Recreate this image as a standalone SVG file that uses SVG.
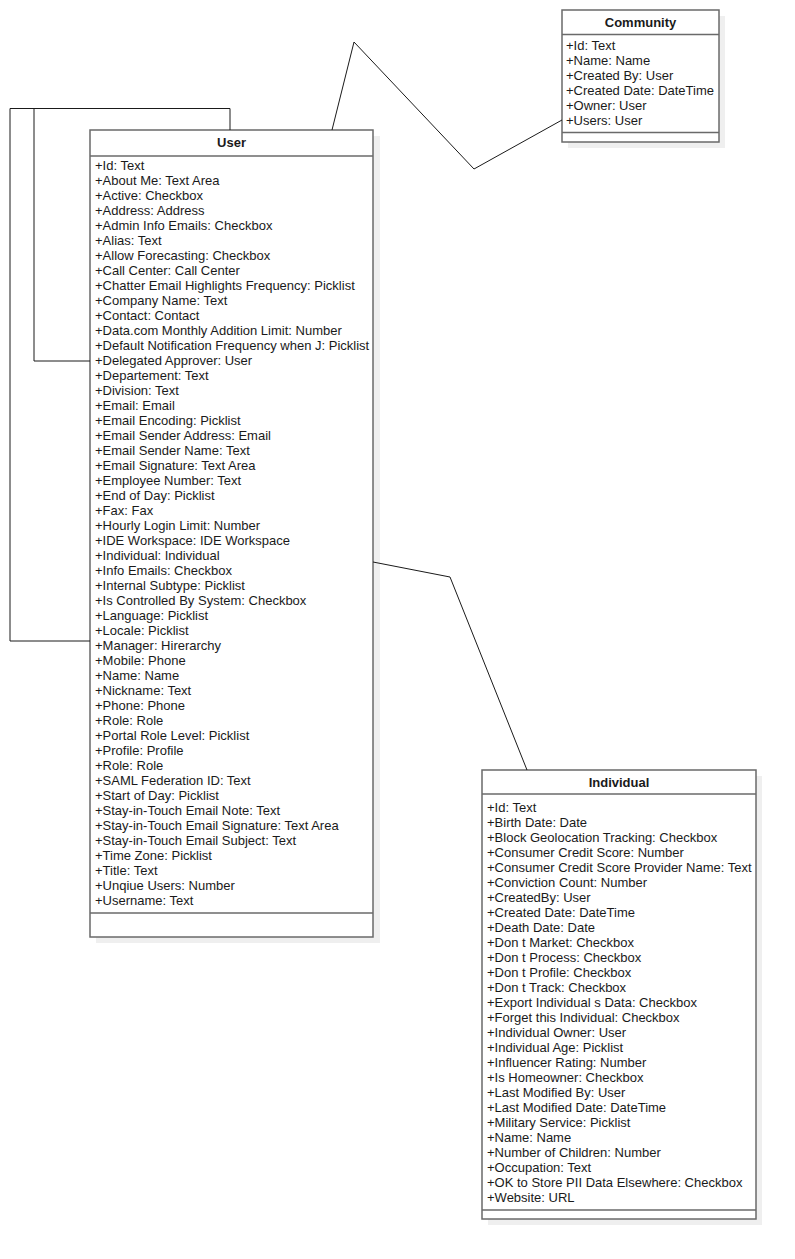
<svg xmlns="http://www.w3.org/2000/svg" width="795" height="1259" viewBox="0 0 795 1259">
<style>
.shadow{fill:#efefef;stroke:none}
.box{fill:#ffffff;stroke:#6a6a6a;stroke-width:1.5}
.div{stroke:#6a6a6a;stroke-width:1.5}
.conn{fill:none;stroke:#1a1a1a;stroke-width:1}
text{font-family:"Liberation Sans",Arial,sans-serif;font-size:13px;fill:#1a1a1a}
.title{font-weight:bold;text-anchor:middle}
</style>
<rect width="795" height="1259" fill="#ffffff"/>
<g id="user">
<rect class="shadow" x="96" y="136" width="284" height="807"/>
<rect class="box" x="90" y="130" width="283" height="807"/>
<line class="div" x1="90" y1="156" x2="373" y2="156"/>
<line class="div" x1="90" y1="913" x2="373" y2="913"/>
<text class="title" x="231.5" y="147">User</text>
<text x="95" y="170">+Id: Text</text>
<text x="95" y="185">+About Me: Text Area</text>
<text x="95" y="200">+Active: Checkbox</text>
<text x="95" y="215">+Address: Address</text>
<text x="95" y="230">+Admin Info Emails: Checkbox</text>
<text x="95" y="245">+Alias: Text</text>
<text x="95" y="260">+Allow Forecasting: Checkbox</text>
<text x="95" y="275">+Call Center: Call Center</text>
<text x="95" y="290">+Chatter Email Highlights Frequency: Picklist</text>
<text x="95" y="305">+Company Name: Text</text>
<text x="95" y="320">+Contact: Contact</text>
<text x="95" y="335">+Data.com Monthly Addition Limit: Number</text>
<text x="95" y="350">+Default Notification Frequency when J: Picklist</text>
<text x="95" y="365">+Delegated Approver: User</text>
<text x="95" y="380">+Departement: Text</text>
<text x="95" y="395">+Division: Text</text>
<text x="95" y="410">+Email: Email</text>
<text x="95" y="425">+Email Encoding: Picklist</text>
<text x="95" y="440">+Email Sender Address: Email</text>
<text x="95" y="455">+Email Sender Name: Text</text>
<text x="95" y="470">+Email Signature: Text Area</text>
<text x="95" y="485">+Employee Number: Text</text>
<text x="95" y="500">+End of Day: Picklist</text>
<text x="95" y="515">+Fax: Fax</text>
<text x="95" y="530">+Hourly Login Limit: Number</text>
<text x="95" y="545">+IDE Workspace: IDE Workspace</text>
<text x="95" y="560">+Individual: Individual</text>
<text x="95" y="575">+Info Emails: Checkbox</text>
<text x="95" y="590">+Internal Subtype: Picklist</text>
<text x="95" y="605">+Is Controlled By System: Checkbox</text>
<text x="95" y="620">+Language: Picklist</text>
<text x="95" y="635">+Locale: Picklist</text>
<text x="95" y="650">+Manager: Hirerarchy</text>
<text x="95" y="665">+Mobile: Phone</text>
<text x="95" y="680">+Name: Name</text>
<text x="95" y="695">+Nickname: Text</text>
<text x="95" y="710">+Phone: Phone</text>
<text x="95" y="725">+Role: Role</text>
<text x="95" y="740">+Portal Role Level: Picklist</text>
<text x="95" y="755">+Profile: Profile</text>
<text x="95" y="770">+Role: Role</text>
<text x="95" y="785">+SAML Federation ID: Text</text>
<text x="95" y="800">+Start of Day: Picklist</text>
<text x="95" y="815">+Stay-in-Touch Email Note: Text</text>
<text x="95" y="830">+Stay-in-Touch Email Signature: Text Area</text>
<text x="95" y="845">+Stay-in-Touch Email Subject: Text</text>
<text x="95" y="860">+Time Zone: Picklist</text>
<text x="95" y="875">+Title: Text</text>
<text x="95" y="890">+Unqiue Users: Number</text>
<text x="95" y="905">+Username: Text</text>
</g>
<g id="community">
<rect class="shadow" x="568" y="16" width="157" height="132"/>
<rect class="box" x="562" y="10" width="157" height="132"/>
<line class="div" x1="562" y1="34.5" x2="719" y2="34.5"/>
<line class="div" x1="562" y1="132.5" x2="719" y2="132.5"/>
<text class="title" x="640.5" y="27">Community</text>
<text x="566" y="49.5">+Id: Text</text>
<text x="566" y="64.5">+Name: Name</text>
<text x="566" y="79.5">+Created By: User</text>
<text x="566" y="94.5">+Created Date: DateTime</text>
<text x="566" y="109.5">+Owner: User</text>
<text x="566" y="124.5">+Users: User</text>
</g>
<g id="individual">
<rect class="shadow" x="488" y="776" width="274" height="449"/>
<rect class="box" x="482" y="770" width="274" height="449"/>
<line class="div" x1="482" y1="794" x2="756" y2="794"/>
<line class="div" x1="482" y1="1210" x2="756" y2="1210"/>
<text class="title" x="619" y="787">Individual</text>
<text x="487" y="811.5">+Id: Text</text>
<text x="487" y="826.5">+Birth Date: Date</text>
<text x="487" y="841.5">+Block Geolocation Tracking: Checkbox</text>
<text x="487" y="856.5">+Consumer Credit Score: Number</text>
<text x="487" y="871.5">+Consumer Credit Score Provider Name: Text</text>
<text x="487" y="886.5">+Conviction Count: Number</text>
<text x="487" y="901.5">+CreatedBy: User</text>
<text x="487" y="916.5">+Created Date: DateTime</text>
<text x="487" y="931.5">+Death Date: Date</text>
<text x="487" y="946.5">+Don t Market: Checkbox</text>
<text x="487" y="961.5">+Don t Process: Checkbox</text>
<text x="487" y="976.5">+Don t Profile: Checkbox</text>
<text x="487" y="991.5">+Don t Track: Checkbox</text>
<text x="487" y="1006.5">+Export Individual s Data: Checkbox</text>
<text x="487" y="1021.5">+Forget this Individual: Checkbox</text>
<text x="487" y="1036.5">+Individual Owner: User</text>
<text x="487" y="1051.5">+Individual Age: Picklist</text>
<text x="487" y="1066.5">+Influencer Rating: Number</text>
<text x="487" y="1081.5">+Is Homeowner: Checkbox</text>
<text x="487" y="1096.5">+Last Modified By: User</text>
<text x="487" y="1111.5">+Last Modified Date: DateTime</text>
<text x="487" y="1126.5">+Military Service: Picklist</text>
<text x="487" y="1141.5">+Name: Name</text>
<text x="487" y="1156.5">+Number of Children: Number</text>
<text x="487" y="1171.5">+Occupation: Text</text>
<text x="487" y="1186.5">+OK to Store PII Data Elsewhere: Checkbox</text>
<text x="487" y="1201.5">+Website: URL</text>
</g>
<g id="connectors">
<polyline class="conn" points="90,641 10,641 10,108.5 230,108.5 230,130"/>
<polyline class="conn" points="90,361 34,361 34,108.5 230,108.5"/>
<polyline class="conn" points="332,130 354,42 474,169 562,120"/>
<polyline class="conn" points="373,562 450,577 527,770"/>
</g>
</svg>
